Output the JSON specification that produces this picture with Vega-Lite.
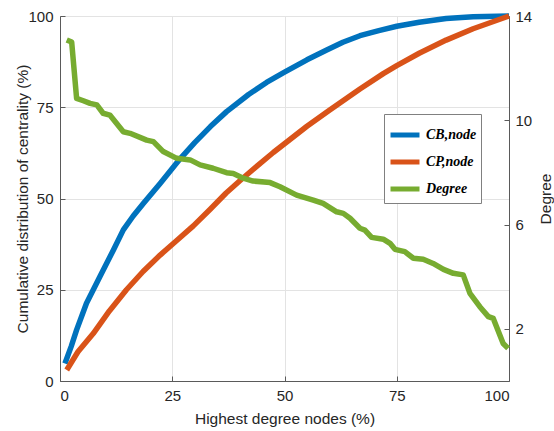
{
  "$schema": "https://vega.github.io/schema/vega-lite/v6.json",
  "width": 449,
  "height": 365,
  "autosize": {"type": "none"},
  "padding": {"left": 60, "top": 16, "right": 45, "bottom": 50},
  "background": "white",
  "config": {
    "view": {"stroke": "#5a5a5a", "strokeWidth": 1},
    "axis": {
      "labelFont": "Liberation Sans",
      "titleFont": "Liberation Sans",
      "labelFontSize": 15,
      "titleFontSize": 15.5,
      "titleFontWeight": "normal",
      "labelColor": "#262626",
      "titleColor": "#262626",
      "domainColor": "#5a5a5a",
      "tickColor": "#5a5a5a",
      "gridColor": "#e3e3e3",
      "tickSize": -5
    },
    "legend": {
      "orient": "none",
      "legendX": 324,
      "legendY": 98,
      "padding": 4,
      "strokeColor": "#808080",
      "fillColor": "white",
      "symbolType": "stroke",
      "symbolSize": 840,
      "symbolStrokeWidth": 5,
      "rowPadding": -6,
      "labelFont": "Liberation Serif",
      "labelFontStyle": "italic",
      "labelFontWeight": "bold",
      "labelFontSize": 14,
      "labelColor": "#000000",
      "labelOffset": 4
    }
  },
  "data": {
    "values": [
      {"x": 1.1, "series": "CB,node", "value": 4.8},
      {"x": 2.5, "series": "CB,node", "value": 9.5},
      {"x": 3.7, "series": "CB,node", "value": 14},
      {"x": 5.9, "series": "CB,node", "value": 21.3},
      {"x": 8.9, "series": "CB,node", "value": 28.6},
      {"x": 11.9, "series": "CB,node", "value": 35.9},
      {"x": 14.1, "series": "CB,node", "value": 41.4},
      {"x": 16.3, "series": "CB,node", "value": 45.2},
      {"x": 18.6, "series": "CB,node", "value": 48.7},
      {"x": 22.3, "series": "CB,node", "value": 54.1},
      {"x": 26.7, "series": "CB,node", "value": 60.8},
      {"x": 30, "series": "CB,node", "value": 65.3},
      {"x": 33.5, "series": "CB,node", "value": 69.7},
      {"x": 37.1, "series": "CB,node", "value": 73.8},
      {"x": 42, "series": "CB,node", "value": 78.5},
      {"x": 46, "series": "CB,node", "value": 81.8},
      {"x": 50, "series": "CB,node", "value": 84.6},
      {"x": 55, "series": "CB,node", "value": 88},
      {"x": 59.4, "series": "CB,node", "value": 90.7},
      {"x": 63, "series": "CB,node", "value": 92.8},
      {"x": 66.8, "series": "CB,node", "value": 94.6},
      {"x": 71, "series": "CB,node", "value": 96},
      {"x": 75, "series": "CB,node", "value": 97.2},
      {"x": 80, "series": "CB,node", "value": 98.3},
      {"x": 86, "series": "CB,node", "value": 99.3},
      {"x": 92, "series": "CB,node", "value": 99.8},
      {"x": 100, "series": "CB,node", "value": 100},
      {"x": 1.5, "series": "CP,node", "value": 3},
      {"x": 4, "series": "CP,node", "value": 8},
      {"x": 7.4, "series": "CP,node", "value": 13},
      {"x": 11, "series": "CP,node", "value": 19.2},
      {"x": 14.8, "series": "CP,node", "value": 25},
      {"x": 18.5, "series": "CP,node", "value": 30},
      {"x": 22.3, "series": "CP,node", "value": 34.5},
      {"x": 26, "series": "CP,node", "value": 38.5},
      {"x": 29.7, "series": "CP,node", "value": 42.5},
      {"x": 33.4, "series": "CP,node", "value": 47},
      {"x": 37, "series": "CP,node", "value": 51.5},
      {"x": 40, "series": "CP,node", "value": 54.8},
      {"x": 44, "series": "CP,node", "value": 59},
      {"x": 47.5, "series": "CP,node", "value": 62.6},
      {"x": 50, "series": "CP,node", "value": 65},
      {"x": 55, "series": "CP,node", "value": 69.8},
      {"x": 60, "series": "CP,node", "value": 74.2},
      {"x": 66.8, "series": "CP,node", "value": 80},
      {"x": 72, "series": "CP,node", "value": 84.2},
      {"x": 75, "series": "CP,node", "value": 86.4},
      {"x": 80, "series": "CP,node", "value": 89.8},
      {"x": 86, "series": "CP,node", "value": 93.4},
      {"x": 92, "series": "CP,node", "value": 96.5},
      {"x": 100, "series": "CP,node", "value": 100},
      {"x": 1.5, "series": "Degree", "value": 13.08},
      {"x": 2.6, "series": "Degree", "value": 13.0},
      {"x": 3.7, "series": "Degree", "value": 10.84},
      {"x": 5.2, "series": "Degree", "value": 10.75},
      {"x": 6.7, "series": "Degree", "value": 10.65},
      {"x": 8.2, "series": "Degree", "value": 10.59},
      {"x": 9.6, "series": "Degree", "value": 10.27},
      {"x": 11.1, "series": "Degree", "value": 10.2},
      {"x": 14.1, "series": "Degree", "value": 9.56},
      {"x": 15.6, "series": "Degree", "value": 9.5},
      {"x": 19.3, "series": "Degree", "value": 9.24},
      {"x": 20.8, "series": "Degree", "value": 9.18},
      {"x": 23, "series": "Degree", "value": 8.8},
      {"x": 26, "series": "Degree", "value": 8.54},
      {"x": 29, "series": "Degree", "value": 8.48},
      {"x": 31.2, "series": "Degree", "value": 8.29},
      {"x": 34.1, "series": "Degree", "value": 8.16},
      {"x": 37.1, "series": "Degree", "value": 7.99},
      {"x": 38.6, "series": "Degree", "value": 7.96},
      {"x": 40.8, "series": "Degree", "value": 7.78},
      {"x": 43, "series": "Degree", "value": 7.67},
      {"x": 46.8, "series": "Degree", "value": 7.61},
      {"x": 49, "series": "Degree", "value": 7.45},
      {"x": 52.7, "series": "Degree", "value": 7.13},
      {"x": 56.4, "series": "Degree", "value": 6.94},
      {"x": 58.6, "series": "Degree", "value": 6.81},
      {"x": 61.6, "series": "Degree", "value": 6.49},
      {"x": 63.1, "series": "Degree", "value": 6.43},
      {"x": 64.6, "series": "Degree", "value": 6.24},
      {"x": 66.8, "series": "Degree", "value": 5.86},
      {"x": 67.9, "series": "Degree", "value": 5.79},
      {"x": 69.4, "series": "Degree", "value": 5.51},
      {"x": 72, "series": "Degree", "value": 5.44},
      {"x": 73.5, "series": "Degree", "value": 5.28},
      {"x": 74.6, "series": "Degree", "value": 5.05},
      {"x": 76.8, "series": "Degree", "value": 4.96},
      {"x": 78.7, "series": "Degree", "value": 4.71},
      {"x": 80.9, "series": "Degree", "value": 4.67},
      {"x": 83.1, "series": "Degree", "value": 4.51},
      {"x": 85.4, "series": "Degree", "value": 4.28},
      {"x": 87.6, "series": "Degree", "value": 4.13},
      {"x": 89.8, "series": "Degree", "value": 4.07},
      {"x": 91.3, "series": "Degree", "value": 3.36},
      {"x": 93.5, "series": "Degree", "value": 2.85},
      {"x": 95.4, "series": "Degree", "value": 2.47},
      {"x": 96.5, "series": "Degree", "value": 2.4},
      {"x": 98.7, "series": "Degree", "value": 1.44},
      {"x": 99.8, "series": "Degree", "value": 1.25}
    ]
  },
  "layer": [
    {
      "transform": [{"filter": "datum.series !== 'Degree'"}],
      "mark": {"type": "line", "strokeWidth": 5.5, "strokeJoin": "round"},
      "encoding": {
        "x": {
          "field": "x", "type": "quantitative",
          "scale": {"domain": [0, 100], "nice": false},
          "axis": {"values": [0, 25, 50, 75, 100], "title": "Highest degree nodes (%)", "labelPadding": 12, "titleY": 37, "titleBaseline": "middle"}
        },
        "y": {
          "field": "value", "type": "quantitative",
          "scale": {"domain": [0, 100], "nice": false},
          "axis": {"orient": "left", "values": [0, 25, 50, 75, 100], "title": "Cumulative distribution of centrality (%)", "labelPadding": 12, "titleX": -37.5, "titleBaseline": "middle"}
        },
        "color": {
          "field": "series", "type": "nominal",
          "scale": {"domain": ["CB,node", "CP,node", "Degree"], "range": ["#0072BD", "#D95319", "#77AC30"]},
          "legend": {"title": null}
        }
      }
    },
    {
      "transform": [{"filter": "datum.series === 'Degree'"}],
      "mark": {"type": "line", "strokeWidth": 5.5, "strokeJoin": "round"},
      "encoding": {
        "x": {"field": "x", "type": "quantitative", "scale": {"domain": [0, 100], "nice": false}},
        "y": {
          "field": "value", "type": "quantitative",
          "scale": {"domain": [0, 14], "nice": false},
          "axis": {"orient": "right", "values": [2, 6, 10, 14], "grid": false, "title": "Degree", "labelPadding": 11, "titleX": 36, "titleAngle": -90, "titleBaseline": "middle"}
        },
        "color": {"field": "series", "type": "nominal", "legend": {"title": null}}
      }
    }
  ],
  "resolve": {"scale": {"y": "independent"}}
}
